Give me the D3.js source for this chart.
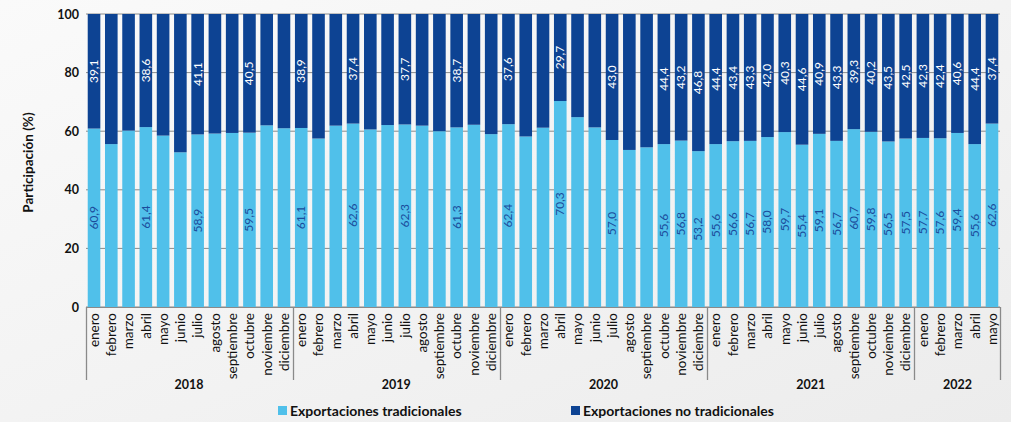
<!DOCTYPE html>
<html>
<head>
<meta charset="utf-8">
<script src="https://cdn.jsdelivr.net/npm/d3@7"></script>
<style>
  html, body { margin: 0; padding: 0; }
  body { width: 1011px; height: 422px; overflow: hidden; background: #f3f3f3; font-family: Lato, "Open Sans", sans-serif; }
</style>
</head>
<body>
<div id="chart"></div>
<script>
const months = ["enero","febrero","marzo","abril","mayo","junio","julio","agosto","septiembre","octubre","noviembre","diciembre"];
const years = ["2018","2019","2020","2021","2022"];
const monthsPerYear = [12, 12, 12, 12, 5];

// Exportaciones tradicionales (%)
const tradicionales = [
  60.9, 55.6, 60.2, 61.4, 58.5, 52.8, 58.9, 59.2, 59.4, 59.5, 62.0, 61.0,
  61.1, 57.5, 61.9, 62.6, 60.6, 62.1, 62.3, 61.9, 60.0, 61.3, 62.2, 59.0,
  62.4, 58.2, 61.2, 70.3, 64.8, 61.3, 57.0, 53.6, 54.5, 55.6, 56.8, 53.2,
  55.6, 56.6, 56.7, 58.0, 59.7, 55.4, 59.1, 56.7, 60.7, 59.8, 56.5, 57.5,
  57.7, 57.6, 59.4, 55.6, 62.6
];
// Exportaciones no tradicionales (%)
const noTradicionales = [
  39.1, 44.4, 39.8, 38.6, 41.5, 47.2, 41.1, 40.8, 40.6, 40.5, 38.0, 39.0,
  38.9, 42.5, 38.1, 37.4, 39.4, 37.9, 37.7, 38.1, 40.0, 38.7, 37.8, 41.0,
  37.6, 41.8, 38.8, 29.7, 35.2, 38.7, 43.0, 46.4, 45.5, 44.4, 43.2, 46.8,
  44.4, 43.4, 43.3, 42.0, 40.3, 44.6, 40.9, 43.3, 39.3, 40.2, 43.5, 42.5,
  42.3, 42.4, 40.6, 44.4, 37.4
];
// bars that carry value labels
const labeled = [0, 3, 6, 9, 12, 15, 18, 21, 24, 27, 30, 33, 34, 35,
  36, 37, 38, 39, 40, 41, 42, 43, 44, 45, 46, 47, 48, 49, 50, 51, 52];
const yTicks = [0, 20, 40, 60, 80, 100];
const seriesNames = ["Exportaciones tradicionales", "Exportaciones no tradicionales"];
const colors = ["#50c0ea", "#0d4393"];

const width = 1011, height = 422;
const plotLeft = 86, plotRight = 1000, plotTop = 14, plotBottom = 307;

const rows = [];
years.forEach((yr, yi) => {
  for (let m = 0; m < monthsPerYear[yi]; m++) {
    const i = rows.length;
    rows.push({i, year: yr, month: months[m], trad: tradicionales[i], noTrad: noTradicionales[i]});
  }
});

const svg = d3.select("#chart").append("svg")
  .attr("width", width).attr("height", height);

const defs = svg.append("defs");
const grad = defs.append("linearGradient").attr("id", "bg").attr("x1", 0).attr("y1", 0).attr("x2", 1).attr("y2", 1);
grad.append("stop").attr("offset", "0%").attr("stop-color", "#fafafa");
grad.append("stop").attr("offset", "100%").attr("stop-color", "#ececec");
svg.append("rect").attr("width", width).attr("height", height).attr("fill", "url(#bg)");

const x = d3.scaleBand()
  .domain(rows.map(d => d.i))
  .range([plotLeft, plotRight])
  .paddingInner(0.27)
  .paddingOuter(0.1);

const y = d3.scaleLinear().domain([0, 100]).range([plotBottom, plotTop]);

// grid
svg.append("g")
  .selectAll("line")
  .data(yTicks)
  .join("line")
    .attr("x1", plotLeft).attr("x2", plotRight)
    .attr("y1", d => y(d)).attr("y2", d => y(d))
    .attr("stroke", "#8a8a8a").attr("stroke-width", 1);

// y axis labels
const yAxis = svg.append("g")
  .attr("transform", `translate(${plotLeft},0)`)
  .call(d3.axisLeft(y).tickValues(yTicks).tickSize(0).tickPadding(7));
yAxis.select(".domain").remove();
yAxis.selectAll("text")
  .attr("font-family", "Lato, sans-serif")
  .attr("font-size", 12.5).attr("font-weight", "bold").attr("fill", "#111");

svg.append("text")
  .attr("transform", `translate(33,${(plotTop + plotBottom) / 2 + 2}) rotate(-90)`)
  .attr("text-anchor", "middle")
  .attr("font-size", 13.5).attr("font-weight", "bold").attr("fill", "#111")
  .text("Participación (%)");

// stacked bars
const stack = d3.stack().keys(["trad", "noTrad"])(rows);
const barGroups = svg.append("g")
  .selectAll("g")
  .data(stack)
  .join("g")
    .attr("fill", (d, k) => colors[k]);

barGroups.selectAll("rect")
  .data(d => d)
  .join("rect")
    .attr("x", d => x(d.data.i))
    .attr("width", x.bandwidth())
    .attr("y", d => y(d[1]))
    .attr("height", d => y(d[0]) - y(d[1]));

// value labels
const labelRows = rows.filter(d => labeled.includes(d.i));
const labels = svg.append("g")
  .attr("font-size", 12)
  .attr("text-anchor", "middle");

labels.selectAll(".lt")
  .data(labelRows)
  .join("text")
    .attr("class", "lt")
    .attr("transform", d => `translate(${x(d.i) + x.bandwidth() / 2 + 4},${y(d.trad / 2)}) rotate(-90)`)
    .attr("fill", "#1b4c9c")
    .text(d => d.trad.toFixed(1).replace(".", ","));

labels.selectAll(".ln")
  .data(labelRows)
  .join("text")
    .attr("class", "ln")
    .attr("transform", d => `translate(${x(d.i) + x.bandwidth() / 2 + 4},${y(d.trad + d.noTrad / 2)}) rotate(-90)`)
    .attr("fill", "#ffffff")
    .text(d => d.noTrad.toFixed(1).replace(".", ","));

// x axis: base line, month labels, year separators
svg.append("line")
  .attr("x1", plotLeft).attr("x2", plotRight)
  .attr("y1", plotBottom + 0.5).attr("y2", plotBottom + 0.5)
  .attr("stroke", "#8a8a8a");

svg.append("g")
  .selectAll("text")
  .data(rows)
  .join("text")
    .attr("transform", d => `translate(${x(d.i) + x.bandwidth() / 2 + 4.8},${plotBottom + 6}) rotate(-90)`)
    .attr("text-anchor", "end")
    .attr("font-size", 13.5)
    .attr("fill", "#111")
    .text(d => d.month);

const yearBounds = [];
let acc = 0;
years.forEach((yr, yi) => {
  yearBounds.push({year: yr, start: acc, end: acc + monthsPerYear[yi] - 1});
  acc += monthsPerYear[yi];
});
const step = x.step();
const edge = i => x(i) - (step - x.bandwidth()) / 2;
const sepX = [plotLeft, ...yearBounds.slice(1).map(b => edge(b.start)), plotRight];

svg.append("g")
  .selectAll("line")
  .data(sepX)
  .join("line")
    .attr("x1", d => Math.round(d) + 0.5).attr("x2", d => Math.round(d) + 0.5)
    .attr("y1", plotBottom).attr("y2", 380)
    .attr("stroke", "#8a8a8a").attr("stroke-width", 1.3);

svg.append("g")
  .selectAll("text")
  .data(yearBounds)
  .join("text")
    .attr("x", d => (x(d.start) + x(d.end) + x.bandwidth()) / 2)
    .attr("y", 389)
    .attr("text-anchor", "middle")
    .attr("font-size", 12.5).attr("font-weight", "bold").attr("fill", "#111")
    .text(d => d.year);

// legend
const legendX = [278, 571];
const legend = svg.append("g")
  .selectAll("g")
  .data(seriesNames)
  .join("g")
    .attr("transform", (d, k) => `translate(${legendX[k]},406)`);
legend.append("rect")
  .attr("width", 9).attr("height", 9)
  .attr("fill", (d, k) => colors[k]);
legend.append("text")
  .attr("x", 12).attr("y", 10)
  .attr("font-size", 14).attr("font-weight", "bold").attr("fill", "#111")
  .text(d => d);
</script>
</body>
</html>
